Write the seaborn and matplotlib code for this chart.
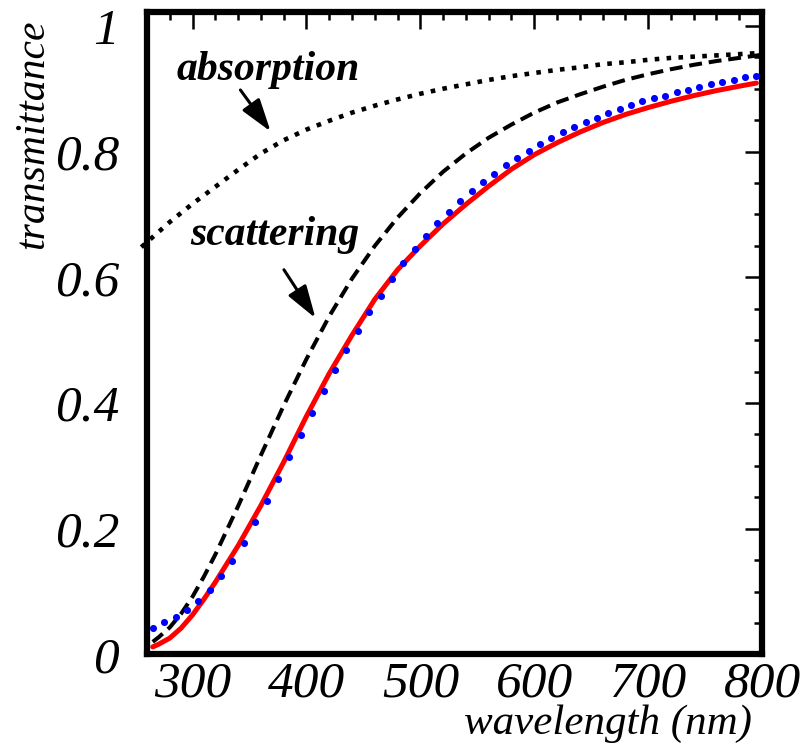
import numpy as np
import pandas as pd
import matplotlib
matplotlib.use("Agg")
import matplotlib.pyplot as plt
import seaborn as sns
from matplotlib.ticker import MultipleLocator

# transmittance from absorption alone (dotted)
abs_wl = [255, 260, 280, 300, 320, 340, 360, 380, 400, 420, 440, 460, 480,
          500, 520, 540, 560, 580, 600, 620, 640, 660, 680, 700, 720, 740,
          760, 780, 800]
abs_t = [0.648, 0.656, 0.688, 0.717, 0.744, 0.771, 0.797, 0.818, 0.835,
         0.849, 0.862, 0.873, 0.883, 0.892, 0.900, 0.907, 0.914, 0.920,
         0.925, 0.930, 0.934, 0.939, 0.942, 0.946, 0.949, 0.951, 0.953,
         0.955, 0.957]

# transmittance from scattering alone (dashed)
sca_wl = [265, 270, 280, 290, 300, 310, 320, 340, 360, 380, 400, 420, 440,
          460, 480, 500, 520, 540, 560, 580, 600, 620, 640, 660, 680, 700,
          720, 740, 760, 780, 800]
sca_t = [0.020, 0.027, 0.043, 0.065, 0.092, 0.124, 0.159, 0.236, 0.317,
         0.396, 0.470, 0.538, 0.598, 0.650, 0.695, 0.734, 0.768, 0.797,
         0.822, 0.843, 0.862, 0.878, 0.891, 0.903, 0.914, 0.923, 0.931,
         0.938, 0.944, 0.949, 0.954]

# combined model (red solid)
tot_wl = [265, 270, 280, 290, 300, 310, 320, 340, 360, 380, 400, 420, 440,
          460, 480, 500, 520, 540, 560, 580, 600, 620, 640, 660, 680, 700,
          720, 740, 760, 780, 795]
tot_t = [0.012, 0.016, 0.026, 0.042, 0.063, 0.088, 0.115, 0.173, 0.237,
         0.306, 0.379, 0.447, 0.508, 0.565, 0.612, 0.650, 0.685, 0.716,
         0.745, 0.772, 0.795, 0.814, 0.831, 0.846, 0.859, 0.870, 0.880,
         0.889, 0.897, 0.904, 0.909]

# measured transmittance (blue dots)
meas_wl = list(range(265, 800, 10))
meas_t = [0.0425, 0.051, 0.060, 0.071, 0.085, 0.1025, 0.124, 0.149,
          0.178, 0.210, 0.244, 0.279, 0.314, 0.349, 0.384, 0.419, 0.452,
          0.484, 0.515, 0.544, 0.571, 0.597, 0.622, 0.645, 0.666, 0.686,
          0.704, 0.721, 0.737, 0.751, 0.765, 0.778, 0.790, 0.801, 0.812,
          0.822, 0.831, 0.839, 0.847, 0.854, 0.861, 0.867, 0.874, 0.880,
          0.885, 0.889, 0.894, 0.898, 0.902, 0.907, 0.911, 0.914, 0.918,
          0.921]

x_ticks = [300, 400, 500, 600, 700, 800]
y_ticks = [0, 0.2, 0.4, 0.6, 0.8, 1.0]
y_tick_labels = ["0", "0.2", "0.4", "0.6", "0.8", "1"]

sns.set_theme(style="white")
plt.rcParams["font.family"] = ["Liberation Serif", "DejaVu Serif"]
plt.rcParams["font.style"] = "italic"
plt.rcParams["axes.linewidth"] = 4.5
for key in ("text.color", "axes.labelcolor", "xtick.color", "ytick.color",
            "axes.edgecolor"):
    plt.rcParams[key] = "black"

fig = plt.figure(figsize=(8.03, 7.51), dpi=100)
ax = fig.add_axes([0.1831, 0.1286, 0.7659, 0.8548])

sns.lineplot(x=abs_wl, y=abs_t, ax=ax, color="black", lw=3.3,
             linestyle=(0, (1, 1.6)), estimator=None)
ax.lines[-1].set_clip_on(False)
ax.lines[-1].set_dash_capstyle("butt")

sns.lineplot(x=sca_wl, y=sca_t, ax=ax, color="black", lw=2.9,
             linestyle=(0, (3.2, 1.7)), estimator=None)

sns.lineplot(x=tot_wl, y=tot_t, ax=ax, color="#ff0000", lw=3.6,
             estimator=None)

sns.scatterplot(x=meas_wl, y=meas_t, ax=ax, color="#0000ff", s=26,
                linewidth=0, zorder=3)

ax.set_xlim(260, 800)
ax.set_ylim(0, 1.0213)
ax.set_xticks(x_ticks)
ax.set_xticklabels([str(v) for v in x_ticks])
ax.set_yticks(y_ticks)
ax.set_yticklabels(y_tick_labels)
ax.xaxis.set_minor_locator(MultipleLocator(20))
ax.yaxis.set_minor_locator(MultipleLocator(0.05))

for s in ax.spines.values():
    s.set_visible(True)
    s.set_color("black")
    s.set_linewidth(4.5)

ax.tick_params(which="both", direction="in", top=True, right=True,
               color="black", width=1.8)
ax.tick_params(which="major", length=12)
ax.tick_params(which="minor", length=6)
ax.tick_params(axis="x", which="major", labelsize=37, pad=5)
ax.tick_params(axis="y", which="major", labelsize=37, pad=20)

ax.set_xlabel("wavelength (nm)", fontsize=31)
ax.xaxis.set_label_coords(0.9837, -0.1235)
ax.xaxis.label.set_ha("right")
ax.xaxis.label.set_va("baseline")

ax.set_ylabel("transmittance", fontsize=30)
ax.yaxis.set_label_coords(-0.185, 0.9883)
ax.yaxis.label.set_ha("right")
ax.yaxis.label.set_va("center")

ax.text(366.3, 0.914, "absorption", fontsize=30, fontweight="bold",
        ha="center", va="baseline")
ax.text(372.2, 0.6514, "scattering", fontsize=30, fontweight="bold",
        ha="center", va="baseline")

arrow = dict(arrowstyle="-|>,head_length=1.0,head_width=0.32",
             mutation_scale=20, lw=2.2, color="black",
             shrinkA=0, shrinkB=0)
ax.annotate("", xy=(368.5, 0.832), xytext=(342, 0.898), arrowprops=arrow)
ax.annotate("", xy=(407.9, 0.535), xytext=(380.2, 0.612), arrowprops=arrow)

fig.savefig("out.png", dpi=100)
